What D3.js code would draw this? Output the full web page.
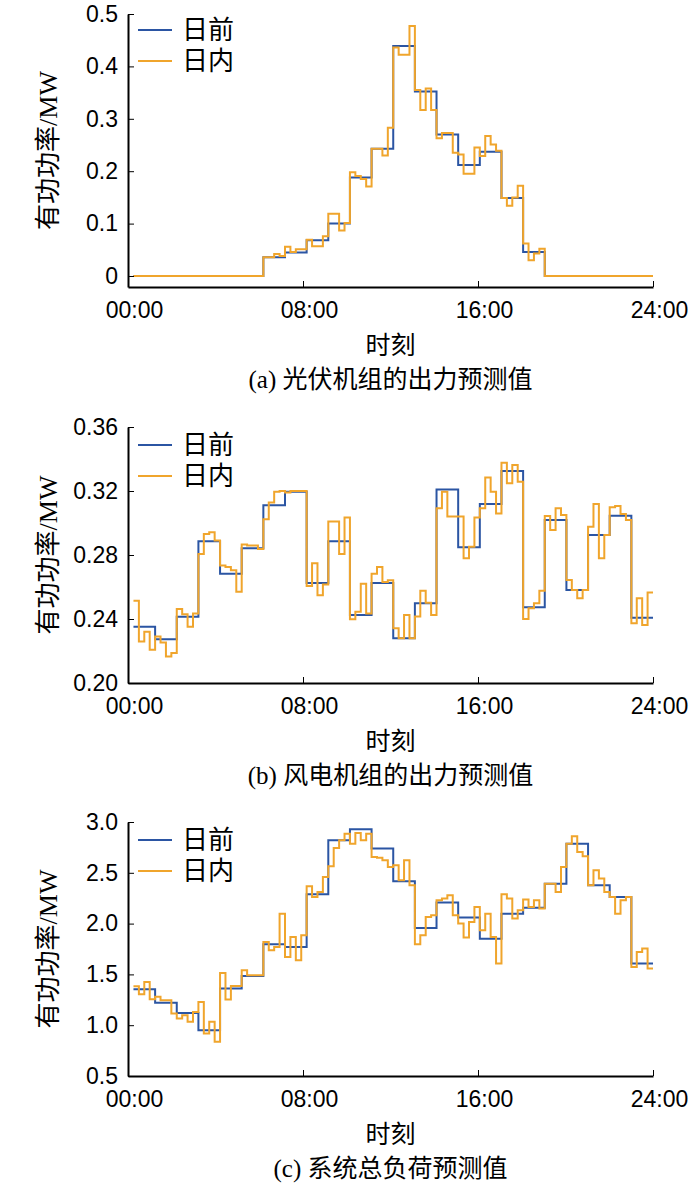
<!DOCTYPE html>
<html><head><meta charset="utf-8">
<script src="https://cdn.jsdelivr.net/npm/d3@7"></script>
<style>body{margin:0;background:#fff}svg{font-family:"Liberation Serif","Noto Sans CJK SC",serif}</style>
</head><body><div id="svg"></div>
<script>
var timeTicks = [0, 8, 16, 24];
var legendNames = ["日前", "日内"];

// (a) PV, hourly day-ahead and 15-min intraday
var pvDayAhead = [0,0,0,0,0,0,0.036,0.045,0.068,0.10,0.188,0.243,0.439,0.352,0.27,0.212,0.237,0.149,0.046,0,0,0,0,0];
var pvIntraday = [0,0,0,0, 0,0,0,0, 0,0,0,0, 0,0,0,0, 0,0,0,0, 0,0,0,0,
  0.036,0.036,0.042,0.038, 0.056,0.046,0.051,0.051, 0.069,0.057,0.057,0.076, 0.119,0.119,0.087,0.101,
  0.198,0.191,0.185,0.171, 0.243,0.243,0.230,0.283, 0.436,0.422,0.422,0.477, 0.355,0.317,0.358,0.317,
  0.263,0.273,0.273,0.235, 0.232,0.195,0.195,0.245, 0.229,0.267,0.251,0.239, 0.149,0.134,0.150,0.172,
  0.062,0.030,0.043,0.052, 0,0,0,0, 0,0,0,0, 0,0,0,0, 0,0,0,0, 0,0,0,0];
// (b) wind
var windDayAhead = [0.2352,0.2274,0.2414,0.2886,0.2683,0.2842,0.3111,0.3196,0.2625,0.2886,0.2425,0.2625,
  0.2279,0.2498,0.3210,0.2848,0.3119,0.3325,0.2473,0.3019,0.2581,0.2925,0.3046,0.2408];
var windIntraday = [0.2514,0.2259,0.2321,0.2208, 0.2290,0.2253,0.2166,0.2187, 0.2462,0.2429,0.2352,0.2435,
  0.2807,0.2931,0.2942,0.2890, 0.2735,0.2725,0.2704,0.2570, 0.2865,0.2859,0.2859,0.2838,
  0.3024,0.3128,0.3196,0.3200, 0.3190,0.3200,0.3200,0.3200, 0.2607,0.2749,0.2549,0.2615,
  0.3010,0.3010,0.2807,0.3035, 0.2398,0.2445,0.2621,0.2435, 0.2683,0.2725,0.2632,0.2642,
  0.2342,0.2279,0.2425,0.2279, 0.2415,0.2577,0.2502,0.2425, 0.3092,0.3196,0.3040,0.3040,
  0.3040,0.2779,0.2852,0.3035, 0.3092,0.3285,0.3196,0.3060, 0.3377,0.3248,0.3363,0.3258,
  0.2400,0.2467,0.2498,0.2577, 0.3044,0.2956,0.3092,0.3050, 0.2644,0.2581,0.2529,0.2581,
  0.2977,0.3119,0.2779,0.2925, 0.3098,0.3106,0.3056,0.3019, 0.2373,0.2529,0.2363,0.2565];
// (c) load
var loadDayAhead = [1.354,1.220,1.121,0.951,1.361,1.485,1.797,1.770,2.289,2.820,2.928,2.738,
  2.416,1.957,2.207,2.059,1.852,2.098,2.157,2.393,2.787,2.377,2.262,1.607];
var loadIntraday = [1.384,1.305,1.426,1.256, 1.279,1.246,1.246,1.115, 1.066,1.098,1.033,1.131,
  1.229,0.918,1.033,0.836, 1.515,1.252,1.387,1.387, 1.541,1.492,1.492,1.492,
  1.820,1.738,1.770,2.098, 1.672,1.869,1.639,1.885, 2.367,2.262,2.311,2.459,
  2.564,2.744,2.820,2.885, 2.787,2.892,2.820,2.885, 2.656,2.649,2.623,2.557,
  2.574,2.426,2.623,2.377, 1.797,1.885,2.066,2.082, 2.230,2.246,2.279,2.082,
  2.000,1.862,2.016,2.164, 1.934,2.098,1.869,1.607, 2.289,2.246,2.049,2.131,
  2.236,2.164,2.230,2.148, 2.393,2.393,2.311,2.557, 2.787,2.859,2.705,2.662,
  2.377,2.525,2.443,2.311, 2.262,2.098,2.230,2.262, 1.574,1.721,1.754,1.557];

var panels = [
  {da: pvDayAhead, id: pvIntraday, top: 14, bottom: 287, domain: [-0.021, 0.5], ticks: [0,0.1,0.2,0.3,0.4,0.5], fmt: d3.format(".1~f"), caption: "(a)  光伏机组的出力预测值", base: 0},
  {da: windDayAhead, id: windIntraday, top: 427, bottom: 683, domain: [0.20, 0.36], ticks: [0.20,0.24,0.28,0.32,0.36], fmt: d3.format(".2f"), caption: "(b)  风电机组的出力预测值", base: 415},
  {da: loadDayAhead, id: loadIntraday, top: 822, bottom: 1076, domain: [0.5, 3.0], ticks: [0.5,1.0,1.5,2.0,2.5,3.0], fmt: d3.format(".1f"), caption: "(c)  系统总负荷预测值", base: 810}
];

var W = 700, H = 1187, left = 128, right = 653;
var svg = d3.select("#svg").append("svg").attr("width", W).attr("height", H);
var x = d3.scaleLinear().domain([0, 24]).range([left, right]);
var t0 = 0.25;

function stepPoints(vals) {
  var dt = (24 - t0) / vals.length;
  var pts = vals.map((v, i) => [t0 + i * dt, v]);
  pts.push([24, vals[vals.length - 1]]);
  return pts;
}

panels.forEach(function(p) {
  var y = d3.scaleLinear().domain(p.domain).range([p.bottom, p.top]);
  var g = svg.append("g");
  var line = d3.line().x(d => x(d[0])).y(d => y(d[1])).curve(d3.curveStepAfter);

  g.append("path").attr("d", line(stepPoints(p.da))).attr("fill", "none").attr("stroke", "#2b55a3").attr("stroke-width", 2);
  g.append("path").attr("d", line(stepPoints(p.id))).attr("fill", "none").attr("stroke", "#f0a52c").attr("stroke-width", 2);

  var xAxis = d3.axisBottom(x).tickValues(timeTicks).tickSizeInner(-6).tickSizeOuter(0)
    .tickFormat(d => (d < 10 ? "0" : "") + d + ":00");
  var gx = g.append("g").attr("transform", "translate(0," + p.bottom + ")").call(xAxis);
  gx.select(".domain").attr("stroke-width", 2);
  gx.selectAll("text").attr("font-size", 23).attr("dy", "1.2em").attr("dx", 6).attr("fill", "#000");

  var yAxis = d3.axisLeft(y).tickValues(p.ticks).tickSizeInner(-6).tickSizeOuter(0).tickFormat(p.fmt);
  var gy = g.append("g").attr("transform", "translate(" + left + ",0)").call(yAxis);
  gy.select(".domain").attr("stroke-width", 2);
  gy.selectAll("text").attr("font-size", 23).attr("x", -10).attr("fill", "#000");

  g.append("text").attr("transform", "translate(57," + ((p.top + p.bottom) / 2) + ") rotate(-90)")
    .attr("text-anchor", "middle").attr("font-size", 26).text("有功功率/MW");
  g.append("text").attr("x", x(12)).attr("y", p.bottom + 67).attr("text-anchor", "middle").attr("font-size", 25).text("时刻");
  g.append("text").attr("x", x(12)).attr("y", p.bottom + 101).attr("text-anchor", "middle").attr("font-size", 25).text(p.caption);

  legendNames.forEach(function(n, i) {
    var ly = p.base + 30 + i * 31;
    g.append("line").attr("x1", 138).attr("x2", 172).attr("y1", ly).attr("y2", ly)
      .attr("stroke", i ? "#f0a52c" : "#2b55a3").attr("stroke-width", 2);
    g.append("text").attr("x", 182).attr("y", ly + 9).attr("font-size", 26).text(n);
  });
});
</script></body></html>
